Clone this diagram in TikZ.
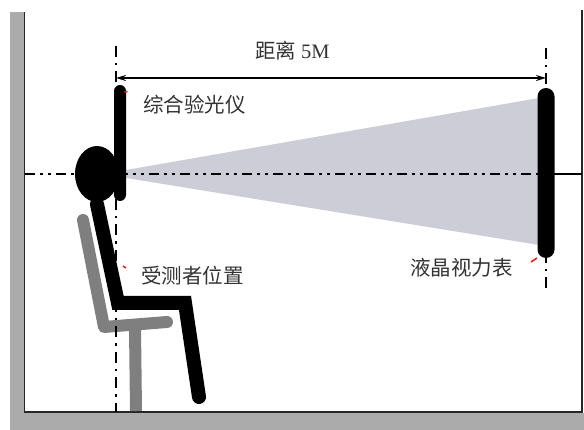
\documentclass[tikz,border=0pt]{standalone}
\usepackage{fontspec}
\setmainfont{Liberation Serif}
\newfontfamily\cjk{Noto Sans CJK SC}
\usetikzlibrary{shapes.geometric, arrows.meta, positioning, calc}
\definecolor{wallgray}{HTML}{ABABAB}
\definecolor{chairgray}{HTML}{7F7F7F}
\definecolor{beamgray}{HTML}{CDCDD8}
\definecolor{markred}{HTML}{E3231E}
\tikzset{
  % Room: walls and floor
  wallfill/.style={fill=wallgray, draw=none},
  wallline/.style={line width=1.8pt, draw=black!85},
  % Axis lines
  axisline/.style={line width=2.8pt,
    dash pattern=on 10pt off 5pt on 3pt off 5pt on 3pt off 5pt},
  plumbline/.style={line width=2.4pt,
    dash pattern=on 11pt off 6pt on 2.5pt off 6pt},
  % Devices
  device/.style={
    rectangle, fill=black, draw=none, inner sep=0pt,
    minimum width=#1, rounded corners=0.5*#1,
  },
  % Subject
  headshape/.style={ellipse, fill=black, draw=none, inner sep=0pt,
    minimum width=44pt, minimum height=56pt},
  bodyline/.style={line width=14pt, draw=black, line cap=round, line join=miter},
  chairline/.style={line width=12pt, draw=chairgray, line cap=round, line join=round},
  % Dimension arrow and labels
  dimarrow/.style={{Stealth[length=10pt, width=6pt]}-{Stealth[length=10pt, width=6pt]}, line width=1.6pt},
  leader/.style={draw=markred, line width=1.6pt},
  lbl/.style={font=\fontsize{20.5}{24}\selectfont, inner sep=0pt, text=black!80},
}

\begin{document}
\begin{tikzpicture}[x=1pt, y=-1pt]
  \useasboundingbox (0,0) rectangle (584,430);

  % Walls and floor
  \fill[wallfill] (10,12) rectangle (24,430);
  \fill[wallfill] (10,413) rectangle (584,430);
  \draw[wallline] (24.5,12) -- (24.5,412) -- (582,412) -- (582,10);

  % Beam from the phoropter to the chart
  \fill[beamgray] (126,170) -- (539,98) -- (539,245) -- (126,178) -- cycle;

  % Chair
  \draw[chairline] (83,220) -- (104,327) -- (167,322);
  \draw[chairline, line cap=butt] (135,328) -- (136,411);

  % Reference lines
  \coordinate (eyeL) at (25,174);
  \coordinate (eyeR) at (546,174);
  \coordinate (wallR) at (582,174);
  \draw[axisline] (eyeL) -- (eyeR);
  \draw[line width=2.4pt] (eyeR) -- (wallR);
  \draw[plumbline] (116,46) -- (116,412);
  \draw[plumbline] (546,48) -- (546,292);

  % Phoropter and LCD chart
  \node[device=12pt, minimum height=116pt] (phoropter) at (120,143) {};
  \node[device=17pt, minimum height=170pt] (chart) at (546,173) {};

  % Subject
  \node[headshape] (head) at (97,174) {};
  \draw[bodyline] (head.south) ++(0,2) -- (118,303) -- (185,303) -- (199,397);

  % Distance
  \coordinate (dimL) at (116,78);
  \coordinate (dimR) at (546,78);
  \draw[dimarrow] (dimL) -- (dimR)
    node[lbl, pos=0.41, above=17pt] (dist) {{\cjk 距离} 5M};

  % Labels with red leaders
  \node[lbl, anchor=west] (lblphoro) at (143,105) {\cjk 综合验光仪};
  \node[lbl, anchor=west] (lblsubj) at (141,276) {\cjk 受测者位置};
  \node[lbl, anchor=west] (lblchart) at (410,268) {\cjk 液晶视力表};
  \draw[leader] (124.5,92) -- (127.5,91.5);
  \draw[leader] (123,266) -- (126,268);
  \draw[leader] (531,262) -- (537,258);
\end{tikzpicture}
\end{document}
